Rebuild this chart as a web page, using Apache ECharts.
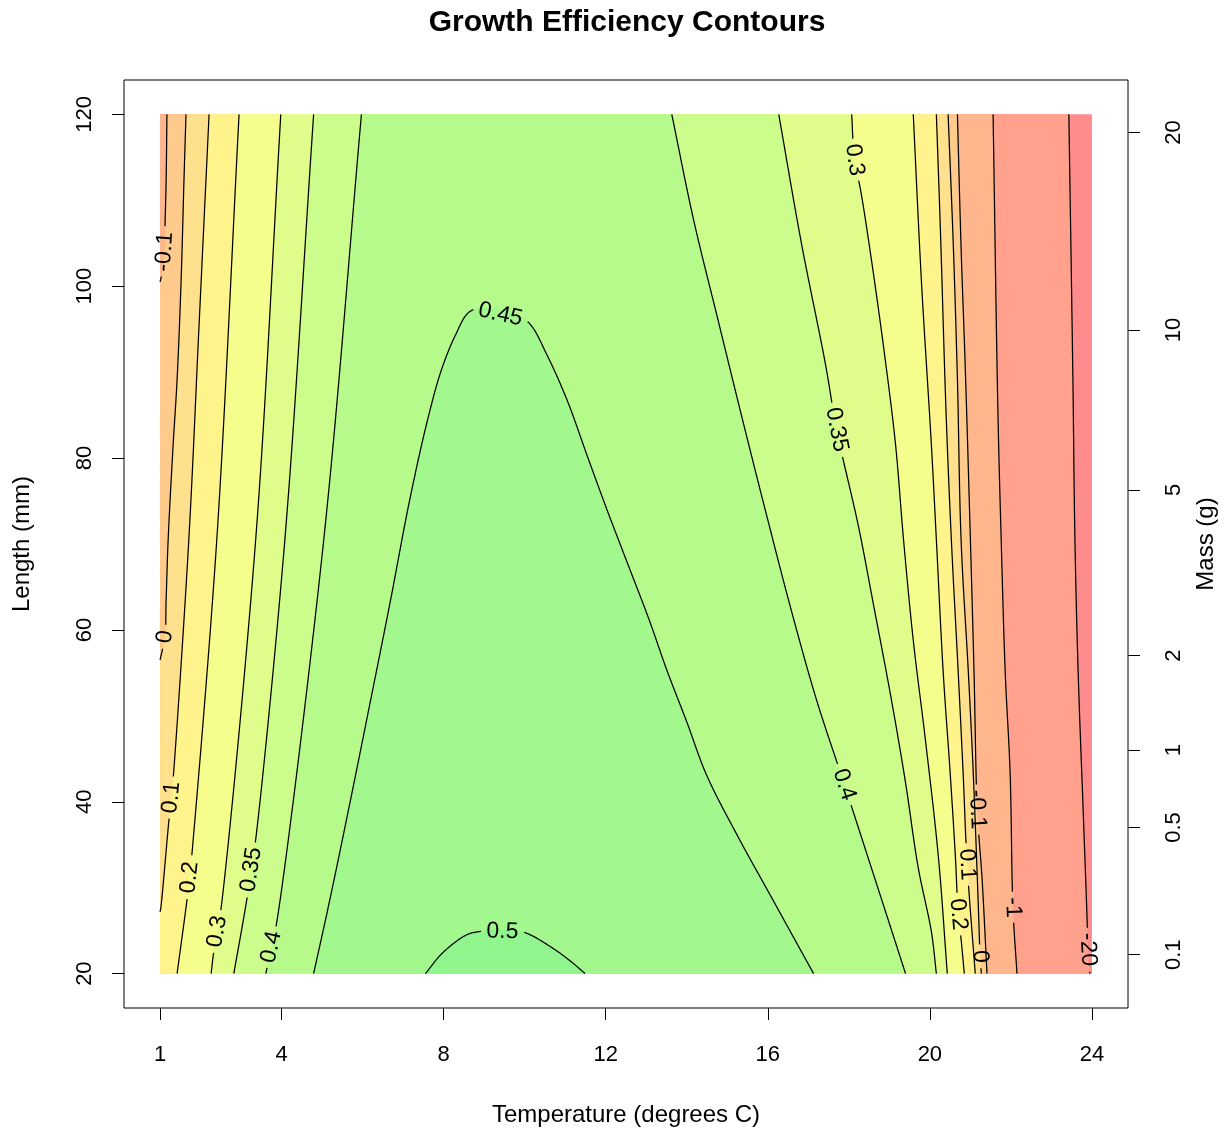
<!DOCTYPE html>
<html>
<head>
<meta charset="utf-8">
<title>Growth Efficiency Contours</title>
<script src="https://cdn.jsdelivr.net/npm/echarts@6/dist/echarts.min.js"></script>
<style>
  html, body { margin: 0; padding: 0; background: #ffffff; }
  #chart { width: 1226px; height: 1132px; }
</style>
</head>
<body>
<div id="chart"></div>
<script>
// ---- data ---------------------------------------------------------------
// Contour levels of growth efficiency and the fill colour of each band
// (band i lies between levels[i-1] and levels[i]).
const levels = [-20, -1, -0.1, 0, 0.1, 0.2, 0.3, 0.35, 0.4, 0.45, 0.5];
const bandColors = ['#ff8c8c', '#ffa18c', '#ffb68c', '#ffcb8c', '#ffe08c', '#fff48c',
                    '#f5fd8c', '#e0fd8c', '#cbfc8c', '#b6fa8c', '#a2f88c', '#8ff58c'];

// Extent of the evaluated grid: temperature (deg C) and length (mm).
const tempRange = [1, 24];
const lengthRange = [20, 120];

// Contour lines as [temperature, length] points.
const contourM20 = [[23.43,120],[23.53,89.1],[23.58,70.5],[23.66,55.0],[23.78,39.4],[23.88,26.3],[23.90,22.8],[23.95,20]];
const contourM1 = [[21.56,120],[21.68,85.2],[21.76,70.5],[21.86,55.0],[21.98,43.4],[22.05,27.7],[22.15,20]];
const contourM01Left = [[1.17,120],[1.15,112.3],[1.12,106.5],[1.11,104.0],[1.05,101.5],[1.00,100.5]];
const contourM01Right = [[20.68,120],[20.77,104.5],[20.87,91.0],[21.00,70.5],[21.09,55.0],[21.17,39.1],[21.29,30.9],[21.41,20]];
const contour0Left = [[1.64,120],[1.59,112.3],[1.52,100.7],[1.42,89.1],[1.32,81.3],[1.20,70.5],[1.15,63.5],[1.12,59.2],[1.00,56.5]];
const contour0Right = [[20.45,120],[20.58,104.5],[20.68,89.1],[20.77,70.5],[20.95,55.0],[21.07,43.4],[21.19,28.6],[21.24,22.0],[21.27,20]];
const contour01Left = [[2.21,120],[1.96,95.2],[1.71,70.5],[1.34,43.7],[1.28,40.5],[1.22,37.9],[1.02,27.7],[1.00,27.2]];
const contour01Right = [[20.16,120],[20.26,106.5],[20.40,85.2],[20.53,70.5],[20.70,55.0],[20.82,43.4],[20.92,32.7],[21.12,20]];
const contour02Left = [[2.95,120],[2.40,70.5],[1.79,34.1],[1.73,31.2],[1.66,28.4],[1.42,20]];
const contour02Right = [[19.59,120],[19.79,100.7],[20.04,81.3],[20.16,70.5],[20.33,55.0],[20.50,43.4],[20.63,33.6],[20.70,26.9],[20.77,24.0],[20.85,20]];
const contour03Left = [[3.98,120],[3.36,70.5],[2.50,27.4],[2.41,24.9],[2.31,22.0],[2.26,20]];
const contour03Right = [[18.07,120],[18.14,114.7],[18.29,111.2],[18.56,103.0],[18.90,91.4],[19.15,81.7],[19.35,70.5],[19.59,58.8],[19.89,47.2],[20.21,33.6],[20.43,20]];
const contour035Left = [[4.79,120],[4.08,70.5],[3.36,35.6],[3.25,32.1],[3.14,28.6],[2.82,20]];
const contour035Right = [[16.27,120],[16.83,105.0],[17.42,91.0],[17.70,83.3],[18.24,72.0],[18.61,62.9],[19.05,51.9],[19.40,42.2],[19.71,32.4],[20.04,24.8],[20.16,20]];
const contour04Left = [[5.97,120],[5.04,70.5],[3.88,26.0],[3.75,23.1],[3.61,20]];
const contour04Right = [[13.63,120],[14.17,107.7],[14.77,96.1],[15.38,84.4],[16.00,72.8],[16.59,62.1],[17.20,51.9],[17.89,42.0],[18.53,32.7],[19.40,20]];
const contour045 = [[4.79,20],[5.19,28.6],[5.70,40.2],[6.20,51.9],[6.69,63.5],[7.16,75.1],[7.60,84.4],[7.94,90.2],[8.29,94.3],[8.63,97.0],[9.10,97.6],[9.60,97.2],[10.11,95.7],[10.55,92.0],[11.05,86.7],[11.54,80.3],[12.03,74.0],[12.55,67.6],[13.07,61.2],[13.51,55.3],[14.00,49.3],[14.49,43.1],[15.28,35.8],[16.10,28.8],[17.13,20]];
const contour05 = [[7.55,20],[7.97,22.4],[8.56,24.5],[8.88,24.9],[9.45,25.1],[9.99,24.8],[10.68,23.0],[11.17,21.3],[11.49,20]];

// Contour labels: text, line id, temperature, length.
const contourLabels = [
  ['-0.1', 'm01L', 1.11, 104.0],
  ['0', '0L', 1.12, 59.2],
  ['0.1', '01L', 1.28, 40.5],
  ['0.2', '02L', 1.73, 31.2],
  ['0.3', '03L', 2.41, 24.9],
  ['0.35', '035L', 3.25, 32.1],
  ['0.4', '04L', 3.75, 23.1],
  ['0.45', '045', 9.40, 96.7],
  ['0.5', '05', 9.45, 24.9],
  ['0.4', '04R', 17.89, 42.0],
  ['0.35', '035R', 17.70, 83.3],
  ['0.3', '03R', 18.14, 114.7],
  ['0.2', '02R', 20.70, 26.9],
  ['0.1', '01R', 20.92, 32.7],
  ['0', '0R', 21.24, 22.0],
  ['-0.1', 'm01R', 21.17, 39.1],
  ['-1', 'm1', 22.05, 27.7],
  ['-20', 'm20', 23.90, 22.8]
];

// Axis ticks.
const tempTicks = [1, 4, 8, 12, 16, 20, 24];
const lengthTicks = [20, 40, 60, 80, 100, 120];
const massTicks = [0.1, 0.5, 1, 2, 5, 10, 20];
const massTickLengths = [22.2, 37.0, 46.0, 57.0, 76.3, 94.9, 117.9];

// ---- assembly -----------------------------------------------------------
const FONT = "'Liberation Sans', Arial, Helvetica, sans-serif";
const LABEL_SIZE = 23;

const contourLines = [
  { id: 'm20', pts: contourM20 },
  { id: 'm1', pts: contourM1 },
  { id: 'm01L', pts: contourM01Left },
  { id: 'm01R', pts: contourM01Right },
  { id: '0L', pts: contour0Left },
  { id: '0R', pts: contour0Right },
  { id: '01L', pts: contour01Left },
  { id: '01R', pts: contour01Right },
  { id: '02L', pts: contour02Left },
  { id: '02R', pts: contour02Right },
  { id: '03L', pts: contour03Left },
  { id: '03R', pts: contour03Right },
  { id: '035L', pts: contour035Left },
  { id: '035R', pts: contour035Right },
  { id: '04L', pts: contour04Left },
  { id: '04R', pts: contour04Right },
  { id: '045', pts: contour045 },
  { id: '05', pts: contour05 }
];

const [t0, t1] = tempRange;
const [l0, l1] = lengthRange;
const P = pt => ({ pt });                                      // grid corner
const C = (line, reverse) => ({ line, reverse: !!reverse });   // contour piece

// Superlevel regions, painted from the lowest level upwards.
const fillRegions = [
  { band: 0, parts: [P([t0, l1]), P([t1, l1]), P([t1, l0]), P([t0, l0])] },
  { band: 1, parts: [P([t0, l1]), C(contourM20), P([t0, l0])] },
  { band: 2, parts: [P([t0, l1]), C(contourM1), P([t0, l0])] },
  { band: 3, parts: [C(contourM01Left), P([t0, l0]), C(contourM01Right, true)] },
  { band: 4, parts: [C(contour0Left), P([t0, l0]), C(contour0Right, true)] },
  { band: 5, parts: [C(contour01Left), P([t0, l0]), C(contour01Right, true)] },
  { band: 6, parts: [C(contour02Left), C(contour02Right, true)] },
  { band: 7, parts: [C(contour03Left), C(contour03Right, true)] },
  { band: 8, parts: [C(contour035Left), C(contour035Right, true)] },
  { band: 9, parts: [C(contour04Left), C(contour04Right, true)] },
  { band: 10, parts: [C(contour045)] },
  { band: 11, parts: [C(contour05)] }
];

const measureCtx = document.createElement('canvas').getContext('2d');
function textWidth(s) {
  measureCtx.font = LABEL_SIZE + 'px ' + FONT;
  return measureCtx.measureText(s).width;
}

// Centripetal Catmull-Rom through the projected points, sampled ~1px apart.
function smoothPath(px) {
  const n = px.length;
  if (n < 3) {
    const out = [];
    const a = px[0], b = px[n - 1];
    const m = Math.max(1, Math.ceil(Math.hypot(b[0] - a[0], b[1] - a[1])));
    for (let k = 0; k <= m; k++) out.push([a[0] + (b[0] - a[0]) * k / m, a[1] + (b[1] - a[1]) * k / m]);
    return out;
  }
  const ext = [
    [2 * px[0][0] - px[1][0], 2 * px[0][1] - px[1][1]],
    ...px,
    [2 * px[n - 1][0] - px[n - 2][0], 2 * px[n - 1][1] - px[n - 2][1]]
  ];
  const knot = (a, b) => Math.max(1e-3, Math.sqrt(Math.hypot(b[0] - a[0], b[1] - a[1])));
  const mix = (a, b, ta, tb, t) => {
    const w = (t - ta) / (tb - ta);
    return [a[0] + (b[0] - a[0]) * w, a[1] + (b[1] - a[1]) * w];
  };
  const out = [];
  for (let i = 1; i < ext.length - 2; i++) {
    const p0 = ext[i - 1], p1 = ext[i], p2 = ext[i + 1], p3 = ext[i + 2];
    const k0 = 0, k1 = k0 + knot(p0, p1), k2 = k1 + knot(p1, p2), k3 = k2 + knot(p2, p3);
    const steps = Math.max(1, Math.ceil(Math.hypot(p2[0] - p1[0], p2[1] - p1[1])));
    for (let s = 0; s < steps; s++) {
      const t = k1 + (k2 - k1) * s / steps;
      const a1 = mix(p0, p1, k0, k1, t), a2 = mix(p1, p2, k1, k2, t), a3 = mix(p2, p3, k2, k3, t);
      const b1 = mix(a1, a2, k0, k2, t), b2 = mix(a2, a3, k1, k3, t);
      out.push(mix(b1, b2, k1, k2, t));
    }
  }
  out.push(px[n - 1]);
  return out;
}

const projectLine = (api, line) => smoothPath(line.map(p => api.coord(p)));

function renderFill(params, api) {
  const reg = fillRegions[api.value(2)];
  const points = [];
  reg.parts.forEach(part => {
    if (part.pt) {
      points.push(api.coord(part.pt));
    } else {
      const path = projectLine(api, part.line);
      points.push(...(part.reverse ? path.reverse() : path));
    }
  });
  return {
    type: 'polygon',
    silent: true,
    shape: { points },
    style: { fill: bandColors[reg.band], stroke: null }
  };
}

function renderContour(params, api) {
  const line = contourLines[api.value(2)];
  const dense = projectLine(api, line.pts);
  const labs = contourLabels.filter(l => l[1] === line.id).map(l => ({
    text: l[0],
    c: api.coord([l[2], l[3]]),
    r: textWidth(l[0]) / 2 + 5
  }));
  const near = (p, l) => Math.hypot(p[0] - l.c[0], p[1] - l.c[1]) <= l.r;
  const children = [];
  let run = [];
  const flush = () => {
    if (run.length > 1) {
      children.push({
        type: 'polyline',
        silent: true,
        shape: { points: run },
        style: { stroke: '#000000', lineWidth: 1.25, fill: null }
      });
    }
    run = [];
  };
  dense.forEach(p => {
    if (labs.some(l => near(p, l))) flush();
    else run.push(p);
  });
  flush();
  labs.forEach(l => {
    const inside = dense.filter(p => near(p, l));
    let ang = 0;
    if (inside.length > 1) {
      const a = inside[0], b = inside[inside.length - 1];
      ang = Math.atan2(-(b[1] - a[1]), b[0] - a[0]);
      if (ang > Math.PI / 2) ang -= Math.PI;
      if (ang <= -Math.PI / 2) ang += Math.PI;
    }
    children.push({
      type: 'text',
      silent: true,
      x: l.c[0],
      y: l.c[1],
      rotation: ang,
      style: {
        text: l.text,
        x: 0, y: 0,
        align: 'center',
        verticalAlign: 'middle',
        fontSize: LABEL_SIZE,
        fontFamily: FONT,
        fill: '#000000'
      }
    });
  });
  return { type: 'group', children };
}

const chart = echarts.init(document.getElementById('chart'), null, { renderer: 'canvas' });

chart.setOption({
  animation: false,
  backgroundColor: '#ffffff',
  graphic: [{
    type: 'text',
    x: 627,
    y: 23,
    style: {
      text: 'Growth Efficiency Contours',
      align: 'center',
      verticalAlign: 'middle',
      fontSize: 30,
      fontWeight: 'bold',
      fontFamily: FONT,
      fill: '#000000'
    }
  }],
  grid: {
    left: 124, top: 80, width: 1006, height: 928,
    show: true, borderColor: '#000000', borderWidth: 1, backgroundColor: 'transparent',
    containLabel: false
  },
  xAxis: {
    type: 'value',
    min: 0.11, max: 24.89,
    axisLine: { show: false },
    splitLine: { show: false },
    axisTick: { show: true, customValues: tempTicks, length: 12, lineStyle: { color: '#000000', width: 1 } },
    axisLabel: { customValues: tempTicks, color: '#000000', fontSize: 22, fontFamily: FONT, margin: 36 },
    name: 'Temperature (degrees C)',
    nameLocation: 'middle',
    nameGap: 95,
    nameTextStyle: { color: '#000000', fontSize: 24, fontFamily: FONT }
  },
  yAxis: [{
    type: 'value',
    position: 'left',
    min: 16, max: 124,
    axisLine: { show: false },
    splitLine: { show: false },
    axisTick: { show: true, customValues: lengthTicks, length: 12, lineStyle: { color: '#000000', width: 1 } },
    axisLabel: { customValues: lengthTicks, rotate: 90, color: '#000000', fontSize: 22, fontFamily: FONT, margin: 28 },
    name: 'Length (mm)',
    nameLocation: 'middle',
    nameRotate: 90,
    nameGap: 90,
    nameTextStyle: { color: '#000000', fontSize: 24, fontFamily: FONT }
  }, {
    type: 'value',
    position: 'right',
    min: 16, max: 124,
    axisLine: { show: false },
    splitLine: { show: false },
    axisTick: { show: true, customValues: massTickLengths, length: 12, lineStyle: { color: '#000000', width: 1 } },
    axisLabel: {
      customValues: massTickLengths,
      rotate: 90,
      color: '#000000', fontSize: 22, fontFamily: FONT, margin: 35,
      formatter: v => {
        const i = massTickLengths.findIndex(m => Math.abs(m - v) < 1e-6);
        return i >= 0 ? String(massTicks[i]) : '';
      }
    },
    name: 'Mass (g)',
    nameLocation: 'middle',
    nameRotate: 90,
    nameGap: 66,
    nameTextStyle: { color: '#000000', fontSize: 24, fontFamily: FONT }
  }],
  series: [{
    type: 'custom',
    name: 'bands',
    coordinateSystem: 'cartesian2d',
    xAxisIndex: 0, yAxisIndex: 0,
    encode: { x: 0, y: 1 },
    z: 1,
    silent: true,
    renderItem: renderFill,
    data: fillRegions.map((r, i) => [t0, l0, i])
  }, {
    type: 'custom',
    name: 'contours',
    coordinateSystem: 'cartesian2d',
    xAxisIndex: 0, yAxisIndex: 0,
    encode: { x: 0, y: 1 },
    z: 2,
    silent: true,
    renderItem: renderContour,
    data: contourLines.map((c, i) => [c.pts[0][0], c.pts[0][1], i])
  }]
});
</script>
</body>
</html>
